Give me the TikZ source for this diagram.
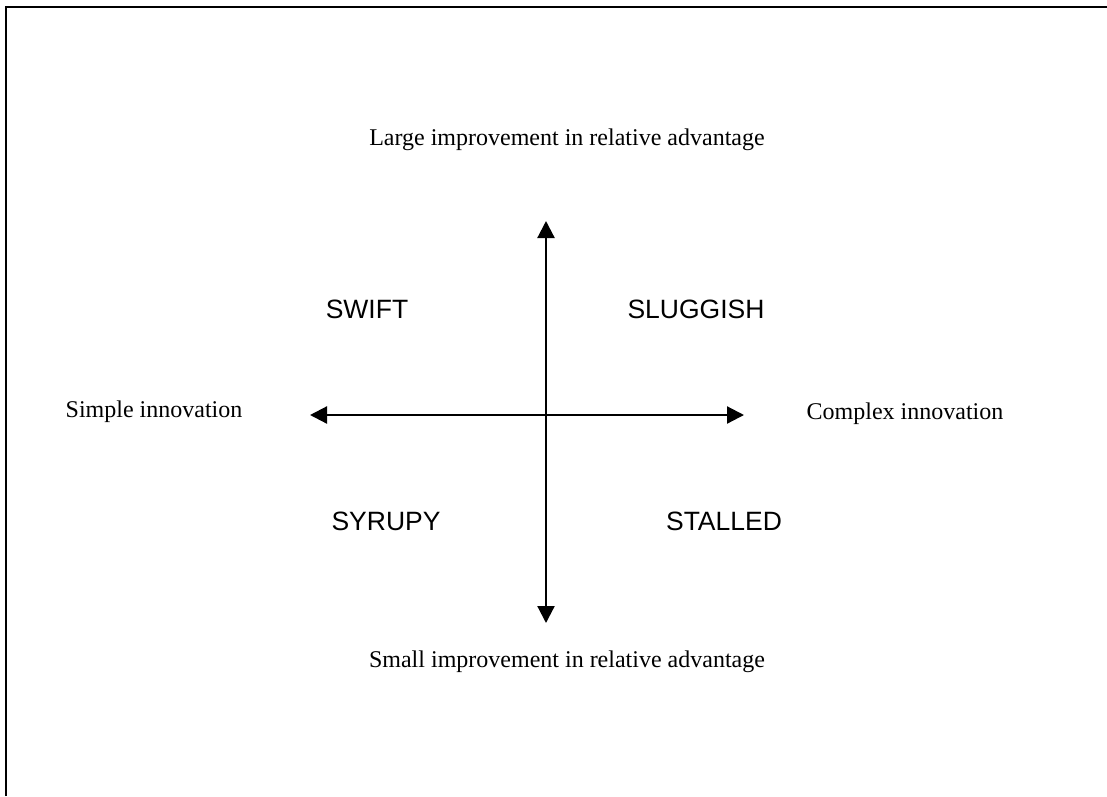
\documentclass[tikz,border=0pt]{standalone}
\usepackage{fontspec}
\setmainfont{Liberation Serif}
\newfontfamily\quadfont{Liberation Sans}
\usetikzlibrary{arrows.meta}
\begin{document}
\begin{tikzpicture}[x=1pt,y=-1pt,
  axislabel/.style={font=\fontsize{24}{28}\selectfont, inner sep=0pt},
  quadlabel/.style={font=\quadfont\fontsize{26.5}{31}\selectfont, inner sep=0pt},
  axis/.style={line width=2.2pt, {Triangle[length=17pt,width=17pt]}-{Triangle[length=17pt,width=17pt]}},
  frame/.style={line width=2.8pt}]
\useasboundingbox (0,0) rectangle (1107,796);
% open frame: left and top edges
\draw[frame] (6,796) -- (6,7) -- (1107,7);
% axis end points
\coordinate (top) at (546,221);
\coordinate (bottom) at (546,623);
\coordinate (left) at (310,415);
\coordinate (right) at (744,415);
\draw[axis] (bottom) -- (top);
\draw[axis] (left) -- (right);
% axis labels
\node[axislabel] (large) at (567,140) {Large improvement in relative advantage};
\node[axislabel] (small) at (567,662) {Small improvement in relative advantage};
\node[axislabel] (simple) at (154,412) {Simple innovation};
\node[axislabel] (complex) at (905,414) {Complex innovation};
% quadrant labels
\node[quadlabel] (swift) at (367,309) {SWIFT};
\node[quadlabel] (sluggish) at (696,309) {SLUGGISH};
\node[quadlabel] (syrupy) at (386,521) {SYRUPY};
\node[quadlabel] (stalled) at (724,521) {STALLED};
\end{tikzpicture}
\end{document}
